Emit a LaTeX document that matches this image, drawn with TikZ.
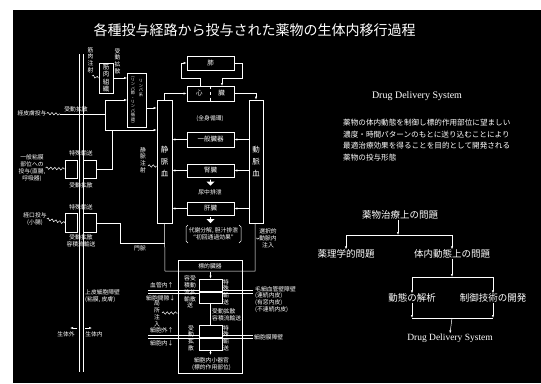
\documentclass[tikz,border=0pt]{standalone}
\usepackage{fontspec}
\setmainfont{Liberation Serif}
\newfontfamily\jp{Noto Sans CJK JP}
\usetikzlibrary{arrows.meta,decorations.pathmorphing,shapes.arrows}
\begin{document}
\begin{tikzpicture}[x=1pt,y=-1pt,
  every node/.style={inner sep=0pt,text=white},
  box/.style={draw=white,line width=0.7pt,font=\jp\fontsize{6.5}{7.5}\selectfont,align=center},
  lbl/.style={font=\jp\fontsize{5.8}{6.8}\selectfont,align=center},
  tiny/.style={font=\jp\fontsize{4.2}{4.4}\selectfont,align=center},
  conn/.style={draw=white,line width=0.5pt},
  arr/.style={conn,-{Latex[length=3pt,width=2.2pt]}},
  wave/.style={conn,decorate,decoration={snake,amplitude=1.2pt,segment length=4pt}},
  fat/.style={single arrow,fill=white,draw=none,minimum height=6pt,minimum width=8pt,single arrow head extend=1.5pt,shape border rotate=270},
  wall/.style={draw=white,line width=0.7pt},
  big/.style={font=\jp\fontsize{9.5}{11}\selectfont},
  eng/.style={font=\fontsize{10}{12}\selectfont}
]
\useasboundingbox (0,0) rectangle (541,383);
\fill[white] (0,0) rectangle (541,383);
\fill[black] (13,10) rectangle (541,383);

\node[font=\jp\fontsize{14}{14}\selectfont] (title) at (254.5,30) {各種投与経路から投与された薬物の生体内移行過程};

% ---------- circulation ----------
\node[box,minimum width=47pt,minimum height=14pt] (lung) at (210.5,63) {肺};
\node[box,minimum width=47pt,minimum height=15pt] (heart) at (210.5,93.5) {心\hspace{16pt}臓};
\draw[white,dashed,line width=0.5pt] (heart.north) -- (heart.south);
\node[box,minimum width=15pt,minimum height=123pt,font=\jp\fontsize{7.5}{8}\selectfont] (vein) at (164.5,161.5) {静\\[4pt]脈\\[4pt]血};
\node[box,minimum width=14pt,minimum height=123pt,font=\jp\fontsize{7.5}{8}\selectfont] (artery) at (256,161.5) {動\\[4pt]脈\\[4pt]血};
\node[lbl] (sys) at (210,119) {(全身循環)};
\node[box,minimum width=47pt,minimum height=15pt] (organ) at (210.5,139.5) {一般臓器};
\node[box,minimum width=47pt,minimum height=13pt] (kidney) at (210.5,170.5) {腎臓};
\node[fat] (karr) at (210.5,182.5) {};
\node[lbl] (urine) at (210,192) {尿中排泄};
\node[box,minimum width=47pt,minimum height=13pt] (liver) at (210.5,208.5) {肝臓};
\node[fat] (larr) at (210.5,220) {};
\node[lbl] (metab) at (213.5,234) {代謝分解, 胆汁排泄\\“初回通過効果”};
\draw[conn] (188,225) -- (186,227) -- (186,241) -- (188,243);
\draw[conn] (239,225) -- (241,227) -- (241,241) -- (239,243);

\coordinate (hl) at (200,86);
\coordinate (hr) at (222,86);
\draw[arr] (hl) -- (200,78) -- (181,78) |- (lung.west);
\draw[arr] (lung.east) -- (242,63) -- (242,78) -- (222,78) -- (hr);
\draw[arr] (vein.north) |- (heart.west);
\draw[arr] (heart.east) -| (artery.north);
\draw[arr] (artery.west |- organ.east) -- (organ.east);
\draw[arr] (organ.west) -- (vein.east |- organ.west);
\draw[arr] (artery.west |- kidney.east) -- (kidney.east);
\draw[arr] (kidney.west) -- (vein.east |- kidney.west);
\draw[arr] (artery.west |- liver.east) -- (liver.east);
\draw[arr] (liver.west) -- (vein.east |- liver.west);

\node[lbl] (selinj) at (268,238) {選択的\\動脈内\\注入};
\coordinate (selw) at (256,238);
\draw[wave] (selinj.west) -- (selw);

% ---------- left: barrier ----------
\coordinate (bt1) at (79,54); \coordinate (bb1) at (79,372);
\coordinate (bt2) at (83,54); \coordinate (bb2) at (83,372);
\draw[wall] (bt1) -- (bb1);
\draw[wall] (bt2) -- (bb2);

\node[lbl] (imlbl) at (90.5,60) {筋\\肉\\注\\射};
\node[box,minimum width=14pt,minimum height=30pt] (imt) at (106,78) {筋\\肉\\組\\織};
\node[lbl] (pd1) at (117.5,61) {受\\動\\拡\\散};
\coordinate (imw) at (92,76);
\draw[wave] (imw) -- (imt.west);
\node[box,minimum width=19pt,minimum height=54pt] (lymph) at (137,100) {};
\node[tiny] (ly1) at (141,88) {リ\\ン\\パ\\系};
\node[tiny] (ly2) at (133,101) {︵\\リ\\ン\\パ\\節\\・\\リ\\ン\\パ\\循\\環\\︶};
\draw[arr] (imt.east) -- (lymph.west |- imt.east);
\draw[arr] (lymph.east |- 0,108) -- (vein.west |- 0,108);

\node[lbl] (td) at (32,113.5) {経皮膚投与};
\coordinate (tdw) at (60,114);
\draw[wave] (td.east) -- (tdw);
\node[lbl] (pd2) at (76,109) {受動拡散};
\draw[conn] (tdw) -- (105,114);
\draw[conn] (105,100) -- (105,130);
\draw[arr] (105,100) -- (lymph.west |- 0,100);
\draw[arr] (105,130) -- (vein.west |- 0,130);

\node[lbl] (muc) at (32,168) {一般粘膜\\部位への\\投与(直腸,\\呼吸器)};
\node[box,minimum width=12pt,minimum height=18pt] (m1) at (71.5,169) {};
\node[box,minimum width=13pt,minimum height=18pt] (m2) at (90,169) {};
\node[lbl] (st1) at (81,153) {特殊輸送};
\node[lbl] (pd3) at (81,185) {受動拡散};
\draw[wave] (muc.east) -- (m1.west);
\draw[conn] (m2.east) -- (112,169) -- (112,130);

\node[lbl] (oral) at (35,219) {経口投与\\(小腸)};
\node[box,minimum width=12pt,minimum height=19pt] (o1) at (71.5,223) {};
\node[box,minimum width=13pt,minimum height=19pt] (o2) at (90,223) {};
\node[lbl] (st2) at (81,207) {特殊輸送};
\node[lbl] (pd4) at (81,241) {受動拡散\\容積流輸送};
\draw[wave] (oral.east) -- (o1.west);
\draw[conn] (o2.east) -- (120,223) -- (120,243) -- (165,243);
\node[lbl] (portal) at (140,248) {門脈};

\node[lbl] (ivlbl) at (143,160) {静\\脈\\注\\射};
\coordinate (ivw) at (148,166);
\draw[wave] (ivw) -- (vein.west |- ivw);

\node[lbl,align=left,anchor=west] (epi) at (85,296) {上皮細胞障壁\\(粘膜, 皮膚)};
\node[lbl] (out) at (66,334) {生体外};
\node[lbl] (in) at (94,334) {生体内};
\coordinate (ao1) at (77,328); \coordinate (ao2) at (70,328);
\coordinate (ai1) at (85,328); \coordinate (ai2) at (92,328);
\draw[arr] (ao1) -- (ao2);
\draw[arr] (ai1) -- (ai2);

% ---------- target organ ----------
\node[box,minimum width=64pt,minimum height=113pt] (tgt) at (210,316.5) {};
\node[lbl] (tgtl) at (210,266) {標的臓器};
\draw[conn] (vein.south) -- (165,271) -- (255,271) -- (artery.south -| 255,0);
\node[box,minimum width=23pt,minimum height=12pt] (t1) at (210.5,285) {};
\node[box,minimum width=23pt,minimum height=11pt] (t2) at (210.5,298) {};
\node[box,minimum width=23pt,minimum height=12pt] (t3) at (210.5,331) {};
\node[box,minimum width=23pt,minimum height=12pt] (t4) at (210.5,344) {};
\node[lbl] (tl1) at (190,292) {容受\\積動\\流拡\\輸散\\送};
\node[lbl] (tr1) at (226,292) {特\\殊\\輸\\送};
\node[lbl] (tl2) at (191,338) {受\\動\\拡\\散};
\node[lbl] (tr2) at (226,338) {特\\殊\\輸\\送};
\node[lbl,align=left,anchor=west] (tmid) at (212,315) {受動拡散\\容積流輸送};
\draw[conn] (t2.south) -- (t3.north);
\draw[arr] (210.5,272) -- (t1.north);
\draw[arr] (t4.south) -- (210.5,355);
\node[lbl] (org) at (211.5,364) {細胞内小器官\\(標的作用部位)};
\coordinate (c1) at (148,290); \coordinate (c2) at (253,290);
\coordinate (c1b) at (148,293); \coordinate (c2b) at (253,293);
\coordinate (c3) at (148,335); \coordinate (c4) at (253,335);
\coordinate (c3b) at (148,338); \coordinate (c4b) at (253,338);
\draw[conn] (c1) -- (t1.west |- c1);
\draw[conn] (c1b) -- (t1.west |- c1b);
\draw[conn] (t1.east |- c2) -- (c2);
\draw[conn] (t1.east |- c2b) -- (c2b);
\draw[conn] (c3) -- (t3.west |- c3);
\draw[conn] (c3b) -- (t3.west |- c3b);
\draw[conn] (t3.east |- c4) -- (c4);
\draw[conn] (t3.east |- c4b) -- (c4b);
\node[lbl,anchor=west] (bv) at (150,285) {血管内↑};
\node[lbl,anchor=west] (is) at (146,298) {細胞間隙↓};
\node[lbl] (loc) at (157,314) {局\\所\\注\\入};
\coordinate (locw) at (162,313);
\draw[wave] (locw) -- (tgt.west |- locw);
\node[lbl,anchor=west] (ce) at (150,330) {細胞外↑};
\node[lbl,anchor=west] (ci) at (150,343) {細胞内↓};
\node[lbl,align=left,anchor=north west] (cap) at (255,286) {毛細血管壁障壁\\(連続内皮)\\(有窓内皮)\\(不連続内皮)};
\node[lbl,anchor=west] (cm) at (254,337) {細胞膜障壁};

% ---------- right panel ----------
\node[eng] (dds) at (417,96) {Drug Delivery System};
\node[font=\jp\fontsize{7.6}{11.6}\selectfont,align=left,anchor=north west] (para) at (343,119) {薬物の体内動態を制御し標的作用部位に望ましい\\濃度・時間パターンのもとに送り込むことにより\\最適治療効果を得ることを目的として開発される\\薬物の投与形態};
\node[big] (p0) at (400,215) {薬物治療上の問題};
\node[big] (p1) at (346,254) {薬理学的問題};
\node[big] (p2) at (452,254) {体内動態上の問題};
\node[big] (p3) at (412,298) {動態の解析};
\node[big] (p4) at (493,298) {制御技術の開発};
\node[eng,font=\fontsize{9.5}{11}\selectfont] (p5) at (450,338) {Drug Delivery System};
\coordinate (j1) at (398,235);
\coordinate (j2) at (452,277);
\coordinate (j3l) at (412,318);
\coordinate (j3r) at (493,318);
\coordinate (j3) at (452,318);
\draw[arr] (p0.south -| j1) -- (j1);
\draw[arr] (j1) -| (p1.north);
\draw[arr] (j1) -| (p2.north);
\draw[arr] (p2.south) -- (j2);
\draw[arr] (j2) -| (p3.north);
\draw[arr] (j2) -| (p4.north);
\draw[arr] (p3.south) -- (j3l);
\draw[arr] (p4.south) -- (j3r);
\draw[conn] (j3l) -- (j3r);
\draw[arr] (j3) -- (p5.north);
\end{tikzpicture}
\end{document}
